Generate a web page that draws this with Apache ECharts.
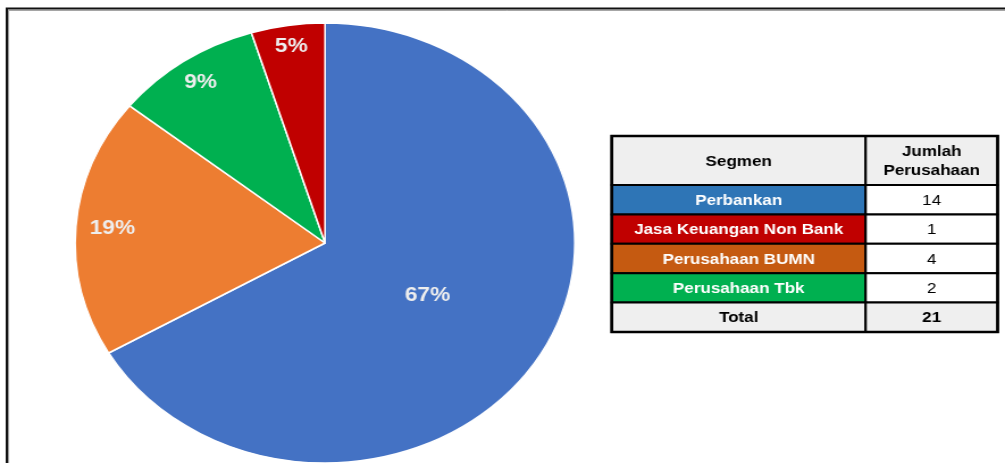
<!DOCTYPE html>
<html>
<head>
<meta charset="utf-8">
<script src="https://cdn.jsdelivr.net/npm/echarts@6/dist/echarts.min.js"></script>
<style>
  html, body { margin: 0; padding: 0; background: #fff; overflow: hidden; }
  #wrap { width: 1005px; height: 463px; overflow: hidden; position: relative; }
  #chart { position: absolute; left: 0; top: 0; width: 885px; height: 463px;
           transform: scaleX(1.1356); transform-origin: 0 0; }
</style>
</head>
<body>
<div id="wrap"><div id="chart"></div></div>
<script>
// ---- data ----
const segments = ['Perbankan', 'Jasa Keuangan Non Bank', 'Perusahaan BUMN', 'Perusahaan Tbk'];
const counts = [14, 1, 4, 2];
const pieOrder = ['Perbankan', 'Perusahaan BUMN', 'Perusahaan Tbk', 'Jasa Keuangan Non Bank'];
const headerSegment = 'Segmen';
const headerCount = 'Jumlah\nPerusahaan';
const totalLabel = 'Total';

// ---- styles ----
const pieColors = {
  'Perbankan': '#4472c4',
  'Perusahaan BUMN': '#ed7d31',
  'Perusahaan Tbk': '#00b050',
  'Jasa Keuangan Non Bank': '#c00000'
};
const tableColors = {
  'Perbankan': '#2e75b6',
  'Jasa Keuangan Non Bank': '#c00000',
  'Perusahaan BUMN': '#c55a11',
  'Perusahaan Tbk': '#00b050'
};

const FONT = 'Liberation Sans, Arial, Helvetica, sans-serif';
const chart = echarts.init(document.getElementById('chart'), null, { renderer: 'canvas' });

const valueOf = name => counts[segments.indexOf(name)];
const total = counts.reduce((a, b) => a + b, 0);

const cx = 286.2, cy = 243, R = 220;

function pieData(labelFilter) {
  return pieOrder.map(n => ({
    name: n,
    value: valueOf(n),
    itemStyle: labelFilter ? { color: 'rgba(0,0,0,0)', borderWidth: 0 } : { color: pieColors[n] },
    label: { show: labelFilter ? labelFilter(n) : false }
  }));
}

const labelStyle = {
  position: 'inside',
  formatter: '{d}%',
  color: '#eeeeee',
  fontSize: 20,
  fontWeight: 'bold',
  fontFamily: FONT
};

// ---- table graphic ----
const xL = 538.7, xM = 762.3, xR = 878.5;
const yTop = 136, yHead = 185, rowH = 29.4;
const g = [];
function cell(x1, x2, y1, y2, fill, text, textColor, bold, lineHeight) {
  g.push({ type: 'rect', shape: { x: x1, y: y1, width: x2 - x1, height: y2 - y1 },
           style: { fill: fill, stroke: '#000', lineWidth: 2 }, z: 10 });
  g.push({ type: 'text', x: (x1 + x2) / 2, y: (y1 + y2) / 2 + 1, z: 11,
           style: { text: text, fill: textColor, align: 'center', verticalAlign: 'middle',
                    fontSize: 15, fontWeight: bold ? 'bold' : 'normal', fontFamily: FONT,
                    lineHeight: lineHeight || 18 } });
}
cell(xL, xM, yTop, yHead, '#efefef', headerSegment, '#000', true);
cell(xM, xR, yTop, yHead, '#efefef', headerCount, '#000', true, 19);
segments.forEach((s, i) => {
  const y1 = yHead + i * rowH, y2 = y1 + rowH;
  cell(xL, xM, y1, y2, tableColors[s], s, '#fff', true);
  cell(xM, xR, y1, y2, '#fff', String(counts[i]), '#000', false);
});
const yT1 = yHead + segments.length * rowH, yT2 = yT1 + rowH;
cell(xL, xM, yT1, yT2, '#efefef', totalLabel, '#000', true);
cell(xM, xR, yT1, yT2, '#efefef', String(total), '#000', true);
g.push({ type: 'rect', shape: { x: xL, y: yTop, width: xR - xL, height: yT2 - yTop },
         style: { fill: null, stroke: '#000', lineWidth: 2.6 }, z: 12 });
// frame
g.push({ type: 'polyline', shape: { points: [[7.4, 463], [7.4, 10.4], [885, 10.4]] },
         style: { stroke: '#9a9a9a', lineWidth: 1, fill: null }, z: 20 });
g.push({ type: 'polyline', shape: { points: [[6.0, 463], [6.0, 8.6], [885, 8.6]] },
         style: { stroke: '#111', lineWidth: 2, fill: null }, z: 21 });

function labelSeries(r0, r1, filter) {
  return {
    type: 'pie', center: [cx, cy], radius: [r0, r1], startAngle: 90, clockwise: true,
    percentPrecision: 0, silent: true, z: 3,
    label: labelStyle, labelLine: { show: false },
    emphasis: { disabled: true },
    data: pieData(filter)
  };
}

chart.setOption({
  animation: false,
  backgroundColor: '#fff',
  series: [
    {
      type: 'pie', center: [cx, cy], radius: [0, R], startAngle: 90, clockwise: true,
      percentPrecision: 0, silent: true,
      itemStyle: { borderColor: '#fff', borderWidth: 1.5 },
      label: { show: false }, labelLine: { show: false },
      emphasis: { disabled: true },
      data: pieData(null)
    },
    labelSeries(0, R * 0.92, n => n === 'Perbankan'),
    labelSeries(R * 0.68, R, n => n === 'Perusahaan BUMN'),
    labelSeries(R * 0.74, R, n => n === 'Perusahaan Tbk'),
    labelSeries(R * 0.78, R, n => n === 'Jasa Keuangan Non Bank')
  ],
  graphic: g
});
</script>
</body>
</html>
